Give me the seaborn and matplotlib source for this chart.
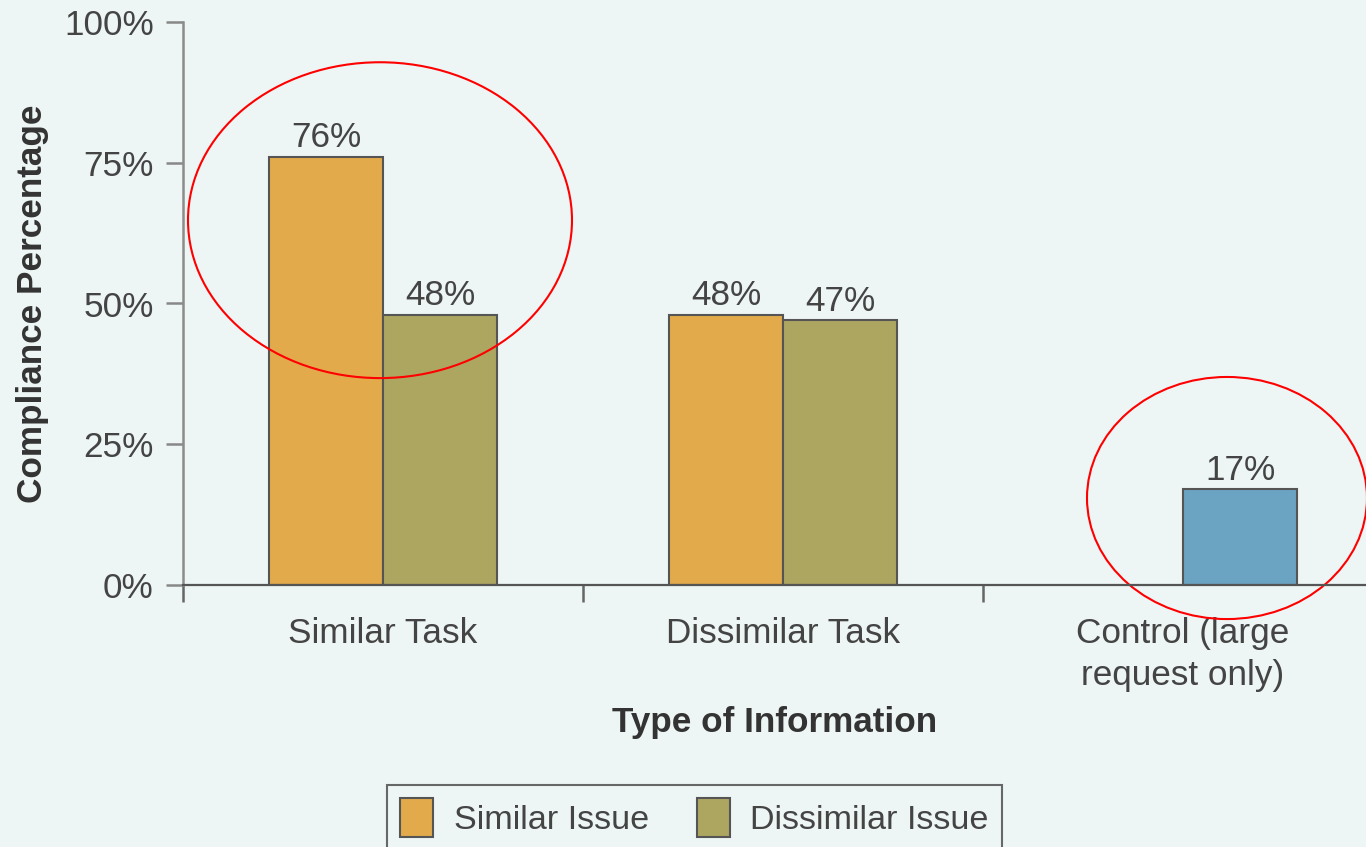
import pandas as pd
import matplotlib.pyplot as plt
import seaborn as sns
from matplotlib.patches import Ellipse, Patch

# Chart data
categories = ["Similar Task", "Dissimilar Task", "Control (large\nrequest only)"]
similar_issue = [76, 48, None]
dissimilar_issue = [48, 47, None]
control_value = 17  # control bar sits in the second slot of its group

issue_levels = ["Similar Issue", "Dissimilar Issue"]
colors = {"Similar Issue": "#E3AA4B", "Dissimilar Issue": "#ADA661"}
control_color = "#6BA4C2"
bg = "#EDF6F5"
text_color = "#444444"
fs = 25.3

rows = []
for cat, s, d in zip(categories, similar_issue, dissimilar_issue):
    rows.append({"Type": cat, "Issue": "Similar Issue", "Pct": s})
    rows.append({"Type": cat, "Issue": "Dissimilar Issue", "Pct": d})
rows[-1]["Pct"] = control_value
df = pd.DataFrame(rows).dropna()

sns.set_style("white")
plt.rcParams["font.family"] = ["Liberation Sans", "DejaVu Sans"]

fig = plt.figure(figsize=(13.66, 8.47), dpi=100, facecolor=bg)
ax = fig.add_axes([183 / 1366, (847 - 585) / 847, (1366 - 183) / 1366, 563 / 847])
ax.set_facecolor(bg)

sns.barplot(
    data=df,
    x="Type",
    y="Pct",
    hue="Issue",
    hue_order=issue_levels,
    order=categories,
    palette=colors,
    width=0.57,
    gap=0,
    edgecolor="#555555",
    linewidth=1.5,
    saturation=1,
    legend=False,
    ax=ax,
)

# recolour the control bar
for bar in ax.containers[1]:
    if abs(bar.get_height() - control_value) < 0.01:
        bar.set_facecolor(control_color)

for cont in ax.containers:
    ax.bar_label(cont, fmt="{:.0f}%", padding=2, fontsize=fs, color=text_color)

ax.set_xlim(-0.5, 2.4575)
ax.set_ylim(0, 100)
ax.set_yticks([0, 25, 50, 75, 100])
ax.set_yticklabels(["0%", "25%", "50%", "75%", "100%"])
ax.set_xticks(range(len(categories)))
ax.set_xticklabels(categories, linespacing=1.35)
ax.set_xticks([-0.5, 0.5, 1.5], minor=True)

ax.tick_params(axis="y", length=12, width=1.8, color="#888888", pad=9,
               labelsize=fs, labelcolor=text_color, left=True)
ax.tick_params(axis="x", which="major", length=0, pad=23,
               labelsize=fs, labelcolor=text_color)
ax.tick_params(axis="x", which="minor", length=12, width=1.8,
               color="#666666", bottom=True)

for side in ["top", "right"]:
    ax.spines[side].set_visible(False)
ax.spines["left"].set_color("#8C8C8C")
ax.spines["left"].set_linewidth(1.8)
ax.spines["bottom"].set_color("#555555")
ax.spines["bottom"].set_linewidth(1.6)

ax.set_ylabel("Compliance Percentage", fontsize=fs, fontweight="bold",
              color="#333333", labelpad=11)
ax.set_xlabel("Type of Information", fontsize=fs, fontweight="bold",
              color="#333333", labelpad=10)

# red highlight ellipses
ax.add_patch(Ellipse((-0.0075, 64.8), 0.96, 56.1, fill=False,
                     edgecolor="red", linewidth=1.5, clip_on=False))
ax.add_patch(Ellipse((2.11, 15.45), 0.70, 43.0, fill=False,
                     edgecolor="red", linewidth=1.5, clip_on=False))

handles = [Patch(facecolor=colors[k], edgecolor="#555555", linewidth=1.5)
           for k in issue_levels]
leg = fig.legend(
    handles,
    issue_levels,
    loc="upper left",
    bbox_to_anchor=(387 / 1366, 1 - 785 / 847),
    ncol=2,
    fontsize=24.6,
    frameon=True,
    fancybox=False,
    borderaxespad=0,
    borderpad=0.38,
    handlelength=0.97,
    handleheight=1.38,
    handletextpad=0.6,
    columnspacing=1.4,
)
leg.get_frame().set_edgecolor("#444444")
leg.get_frame().set_linewidth(1.5)
leg.get_frame().set_facecolor(bg)
for t in leg.get_texts():
    t.set_color(text_color)

fig.savefig("out.png", dpi=100, facecolor=bg)
